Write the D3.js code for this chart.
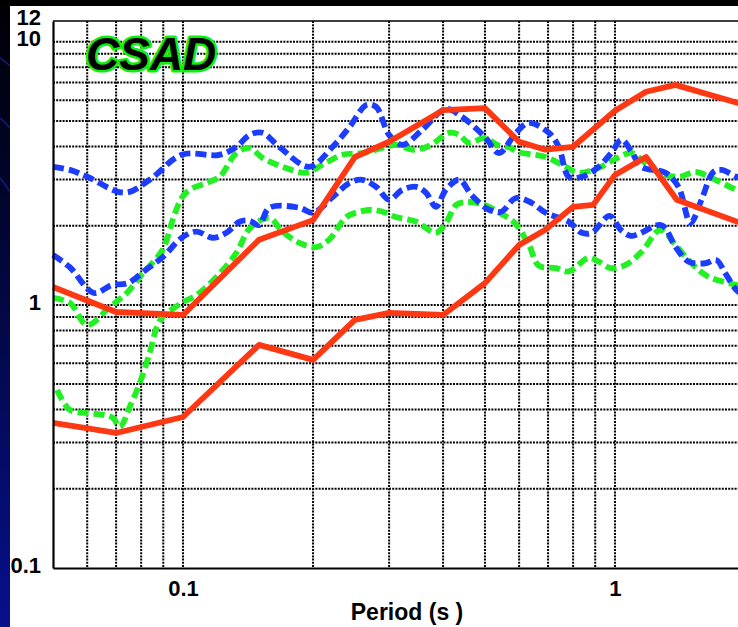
<!DOCTYPE html>
<html>
<head>
<meta charset="utf-8">
<script src="https://cdn.jsdelivr.net/npm/d3@7.9.0/dist/d3.min.js"></script>
<style>
  html, body { margin: 0; padding: 0; background: #000; }
  svg { display: block; }
  text { font-family: "Liberation Sans", Arial, sans-serif; font-weight: bold; }
</style>
</head>
<body>
<svg id="chart" width="738" height="627"></svg>
<script>
// periods (s) and spectral values
const redUpperT = [0.05, 0.07, 0.1, 0.15, 0.2, 0.25, 0.3, 0.4, 0.5, 0.6, 0.69, 0.8, 1.0, 1.18, 1.38, 2.0];
const redUpperV = [1.17, 0.94, 0.916, 1.77, 2.1, 3.65, 4.17, 5.5, 5.6, 4.17, 3.89, 3.99, 5.47, 6.46, 6.86, 5.75];

const redLowerT = [0.05, 0.07, 0.1, 0.15, 0.2, 0.25, 0.3, 0.4, 0.5, 0.6, 0.69, 0.8, 0.89, 1.0, 1.18, 1.39, 2.0];
const redLowerV = [0.356, 0.326, 0.375, 0.705, 0.618, 0.877, 0.932, 0.916, 1.21, 1.69, 1.93, 2.36, 2.4, 3.12, 3.65, 2.51, 2.02];

const blueUpperT = [0.05, 0.0547, 0.06, 0.0733, 0.0837, 0.0993, 0.1215, 0.133, 0.1426, 0.1528, 0.167, 0.196, 0.222, 0.243, 0.266, 0.28, 0.3, 0.322, 0.358, 0.406, 0.442, 0.5, 0.539, 0.59, 0.632, 0.703, 0.741, 0.782, 0.838, 0.917, 0.98, 1.036, 1.093, 1.152, 1.309, 1.403, 1.496, 1.586, 1.69, 1.763, 1.91, 2.0];
const blueUpperV = [3.35, 3.26, 3.07, 2.67, 2.99, 3.72, 3.72, 3.99, 4.43, 4.51, 3.99, 3.35, 3.99, 4.75, 5.76, 5.66, 4.43, 4.06, 4.63, 5.56, 5.19, 4.35, 3.78, 4.51, 4.92, 4.51, 3.99, 3.07, 3.07, 3.35, 3.78, 4.24, 3.82, 3.35, 3.18, 2.81, 2.05, 2.51, 3.2, 3.26, 3.07, 3.0];

const blueLowerT = [0.05, 0.0547, 0.0622, 0.0684, 0.0745, 0.0816, 0.0897, 0.0998, 0.1075, 0.117, 0.126, 0.1352, 0.1426, 0.15, 0.1585, 0.186, 0.2, 0.222, 0.243, 0.26, 0.28, 0.3, 0.322, 0.347, 0.365, 0.385, 0.406, 0.436, 0.467, 0.511, 0.545, 0.59, 0.642, 0.691, 0.782, 0.838, 0.883, 0.972, 1.031, 1.087, 1.134, 1.282, 1.381, 1.48, 1.62, 1.717, 1.8, 1.91, 2.0];
const blueLowerV = [1.55, 1.39, 1.11, 1.19, 1.21, 1.35, 1.52, 1.81, 1.9, 1.8, 1.88, 2.07, 2.09, 2.01, 2.34, 2.34, 2.24, 2.57, 2.91, 2.99, 2.81, 2.51, 2.74, 2.81, 2.67, 2.36, 2.74, 2.99, 2.6, 2.3, 2.26, 2.55, 2.44, 2.24, 2.07, 1.88, 1.88, 2.18, 1.93, 1.83, 1.86, 2.01, 1.66, 1.46, 1.44, 1.48, 1.32, 1.14, 1.08];

const greenUpperT = [0.05, 0.0547, 0.06, 0.0677, 0.0741, 0.0807, 0.0897, 0.0946, 0.0993, 0.1036, 0.1134, 0.1215, 0.133, 0.1426, 0.1528, 0.17, 0.193, 0.21, 0.234, 0.26, 0.289, 0.311, 0.339, 0.371, 0.413, 0.436, 0.459, 0.5, 0.533, 0.574, 0.593, 0.691, 0.769, 0.824, 0.917, 1.003, 1.093, 1.165, 1.261, 1.403, 1.536, 1.672, 1.91, 2.0];
const greenUpperV = [1.063, 1.018, 0.839, 0.983, 1.11, 1.32, 1.62, 2.1, 2.55, 2.74, 2.91, 3.07, 3.78, 3.95, 3.62, 3.35, 3.18, 3.41, 3.72, 3.78, 3.95, 4.06, 3.89, 4.02, 4.51, 4.43, 4.13, 4.31, 4.06, 3.95, 3.82, 3.65, 3.35, 3.18, 3.32, 3.59, 3.78, 3.5, 3.18, 3.07, 3.2, 3.04, 2.74, 2.68];

const greenLowerT = [0.0511, 0.0547, 0.06, 0.0653, 0.0688, 0.0714, 0.0753, 0.0794, 0.0837, 0.087, 0.0897, 0.0993, 0.1075, 0.1196, 0.133, 0.1426, 0.1585, 0.17, 0.186, 0.2035, 0.218, 0.239, 0.256, 0.274, 0.295, 0.311, 0.347, 0.385, 0.406, 0.429, 0.452, 0.5, 0.539, 0.583, 0.632, 0.666, 0.73, 0.782, 0.869, 0.917, 0.977, 1.058, 1.152, 1.275, 1.381, 1.503, 1.645, 1.91, 2.0];
const greenLowerV = [0.475, 0.399, 0.388, 0.382, 0.372, 0.344, 0.41, 0.505, 0.657, 0.825, 0.9, 1.018, 1.09, 1.28, 1.58, 1.95, 2.14, 1.9, 1.72, 1.66, 1.77, 2.16, 2.26, 2.3, 2.24, 2.16, 2.07, 1.88, 2.05, 2.4, 2.46, 2.4, 2.24, 2.07, 1.69, 1.41, 1.38, 1.34, 1.51, 1.46, 1.38, 1.42, 1.59, 1.93, 1.69, 1.44, 1.28, 1.19, 1.16];

const xTickLabels = [0.1, 1];
const yTickLabels = [0.1, 1, 10, 12];
const xGrid = [0.06, 0.07, 0.08, 0.09, 0.1, 0.2, 0.3, 0.4, 0.5, 0.6, 0.7, 0.8, 0.9, 1, 2];
const yGrid = [0.2, 0.3, 0.4, 0.5, 0.6, 0.7, 0.8, 0.9, 1, 2, 3, 4, 5, 6, 7, 8, 9, 10];

const svg = d3.select('#chart');
const W = 738, H = 627;

// slide background: black top, navy left strip
const defs = svg.append('defs');
const grad = defs.append('linearGradient').attr('id', 'navy')
  .attr('x1', 0).attr('y1', 0).attr('x2', 0).attr('y2', 1);
grad.append('stop').attr('offset', '0%').attr('stop-color', '#000004');
grad.append('stop').attr('offset', '35%').attr('stop-color', '#020530');
grad.append('stop').attr('offset', '100%').attr('stop-color', '#06108c');
svg.append('rect').attr('width', W).attr('height', H).attr('fill', 'url(#navy)');
svg.append('rect').attr('width', W).attr('height', 6).attr('fill', '#000');
[[58, 66], [118, 128], [178, 192]].forEach(([a, b]) => {
  svg.append('path').attr('d', `M0,${a} Q5,${(a + b) / 2 - 1} 10,${b}`)
    .attr('stroke', '#13238a').attr('stroke-width', 1.2).attr('fill', 'none');
});
svg.append('rect').attr('x', 10).attr('y', 6).attr('width', W - 10).attr('height', H - 6).attr('fill', '#fff');

const x = d3.scaleLog().domain([0.05, 2]).range([53, 745]);
const y = d3.scaleLog().domain([0.1, 12]).range([568, 21]);

// dotted grid
const grid = svg.append('g').attr('stroke', '#000').attr('stroke-width', 2)
  .attr('stroke-dasharray', '2,1.2');
grid.selectAll('.gx').data(xGrid).join('line')
  .attr('x1', d => x(d)).attr('x2', d => x(d))
  .attr('y1', y(12)).attr('y2', y(0.1));
grid.selectAll('.gy').data(yGrid).join('line')
  .attr('x1', x(0.05)).attr('x2', x(2))
  .attr('y1', d => y(d)).attr('y2', d => y(d));

// frame
svg.append('line').attr('x1', x(0.05)).attr('x2', x(2)).attr('y1', y(12)).attr('y2', y(12))
  .attr('stroke', '#000').attr('stroke-width', 1.5);

const line = d3.line().x(d => x(d[0])).y(d => y(d[1]));
const smooth = d3.line().x(d => x(d[0])).y(d => y(d[1])).curve(d3.curveCatmullRom.alpha(0.5));
const zip = (t, v) => t.map((d, i) => [d, v[i]]);

const plot = svg.append('g');
const series = [
  { t: greenUpperT, v: greenUpperV, color: '#22f022', dash: '11,5', gen: smooth },
  { t: greenLowerT, v: greenLowerV, color: '#22f022', dash: '11,5', gen: smooth },
  { t: blueUpperT, v: blueUpperV, color: '#1c3cff', dash: '11,5', gen: smooth },
  { t: blueLowerT, v: blueLowerV, color: '#1c3cff', dash: '11,5', gen: smooth },
  { t: redUpperT, v: redUpperV, color: '#ff3814', dash: null, gen: line },
  { t: redLowerT, v: redLowerV, color: '#ff3814', dash: null, gen: line }
];
series.forEach(s => {
  plot.append('path')
    .attr('d', s.gen(zip(s.t, s.v)))
    .attr('fill', 'none')
    .attr('stroke', s.color)
    .attr('stroke-width', 5.8)
    .attr('stroke-linejoin', 'round')
    .attr('stroke-dasharray', s.dash);
});

// axes
const xAxis = svg.append('g').attr('transform', `translate(0,${y(0.1)})`)
  .call(d3.axisBottom(x).tickValues(xTickLabels).tickFormat(d => d).tickSize(0).tickPadding(12));
const yAxis = svg.append('g').attr('transform', `translate(${x(0.05)},0)`)
  .call(d3.axisLeft(y).tickValues(yTickLabels).tickFormat(d => d).tickSize(0).tickPadding(12));
[xAxis, yAxis].forEach(g => {
  g.select('.domain').attr('stroke', '#000').attr('stroke-width', 2.2);
  g.selectAll('text').attr('font-size', 22).attr('fill', '#000')
    .attr('font-family', '"Liberation Sans", Arial, sans-serif').attr('font-weight', 'bold');
});
yAxis.selectAll('.tick text').attr('dy', d => d === 10 ? '0.17em' : d === 12 ? '0.14em' : '0.22em');

svg.append('text').attr('x', 407).attr('y', 620).attr('text-anchor', 'middle')
  .attr('font-size', 23).attr('fill', '#000').text('Period (s )');

svg.append('text').attr('x', 86).attr('y', 70)
  .attr('font-size', 46).attr('font-style', 'italic')
  .attr('fill', '#000').attr('stroke', '#0cf00c').attr('stroke-width', 5)
  .attr('stroke-linejoin', 'round').attr('paint-order', 'stroke')
  .text('CSAD');
</script>
</body>
</html>
